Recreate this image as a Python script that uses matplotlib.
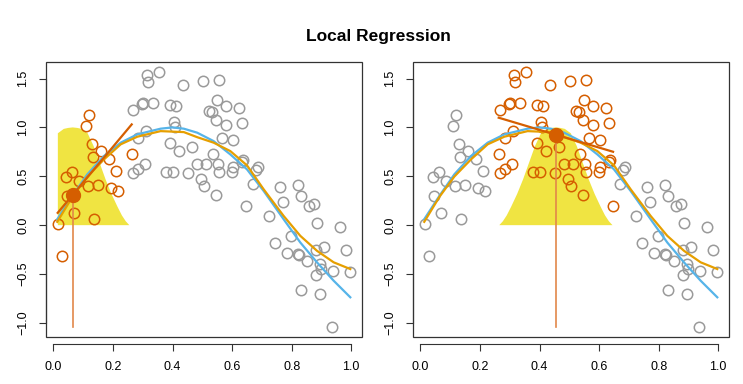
import numpy as np
import matplotlib
matplotlib.use("Agg")
import matplotlib.pyplot as plt
from matplotlib.patches import Rectangle

plt.rcParams['font.family'] = ['Liberation Sans', 'DejaVu Sans']

# simulated data
x = np.array([0.0145, 0.028, 0.042, 0.047, 0.061, 0.069, 0.086, 0.109, 0.116, 0.120,
              0.128, 0.134, 0.136, 0.151, 0.159, 0.187, 0.192, 0.211, 0.216, 0.263,
              0.268, 0.268, 0.285, 0.285, 0.298, 0.302, 0.306, 0.312, 0.315, 0.318,
              0.335, 0.354, 0.379, 0.391, 0.393, 0.403, 0.404, 0.408, 0.413, 0.422,
              0.434, 0.453, 0.466, 0.482, 0.497, 0.503, 0.507, 0.514, 0.523, 0.531,
              0.535, 0.545, 0.547, 0.551, 0.554, 0.556, 0.556, 0.565, 0.579, 0.581,
              0.600, 0.602, 0.603, 0.623, 0.634, 0.635, 0.636, 0.647, 0.669, 0.679,
              0.687, 0.724, 0.743, 0.760, 0.772, 0.786, 0.798, 0.822, 0.822, 0.826,
              0.832, 0.832, 0.853, 0.860, 0.876, 0.883, 0.883, 0.884, 0.894, 0.895,
              0.897, 0.908, 0.937, 0.939, 0.961, 0.984, 0.997])
y = np.array([0.010, -0.316, 0.49, 0.30, 0.54, 0.126, 0.45, 1.01, 0.40, 1.13,
              0.833, 0.70, 0.064, 0.415, 0.755, 0.673, 0.384, 0.558, 0.354, 0.728,
              1.18, 0.53, 0.575, 0.894, 1.235, 1.25, 0.622, 0.966, 1.54, 1.466,
              1.25, 1.565, 0.54, 1.225, 0.837, 0.54, 1.06, 1.007, 1.218, 0.762,
              1.435, 0.53, 0.796, 0.622, 0.473, 1.476, 0.40, 0.629, 1.173, 1.153,
              0.731, 0.31, 1.075, 1.282, 0.626, 0.548, 1.483, 0.888, 1.214, 1.02,
              0.548, 0.60, 0.871, 1.20, 0.646, 1.048, 0.667, 0.194, 0.418, 0.568,
              0.60, 0.092, -0.18, 0.395, 0.235, -0.289, -0.112, 0.412, -0.299, -0.306,
              0.30, -0.66, -0.371, 0.194, 0.218, -0.252, -0.51, 0.024, -0.707, -0.398,
              -0.446, -0.228, -1.04, -0.466, -0.02, -0.255, -0.476])

# true function (blue) and loess fit (orange), read at a set of x positions
true_x = [0.013, 0.064, 0.114, 0.17, 0.226, 0.282, 0.36, 0.40, 0.438, 0.483,
          0.538, 0.594, 0.65, 0.706, 0.773, 0.829, 0.885, 0.941, 0.997]
true_y = [0.061, 0.30, 0.52, 0.707, 0.844, 0.929, 0.987, 1.0, 0.987, 0.946,
          0.86, 0.724, 0.571, 0.35, 0.061, -0.177, -0.38, -0.568, -0.738]
fit_x = [0.013, 0.064, 0.114, 0.17, 0.226, 0.282, 0.36, 0.438, 0.483, 0.538,
         0.594, 0.65, 0.706, 0.773, 0.829, 0.885, 0.941, 0.997]
fit_y = [0.034, 0.29, 0.497, 0.673, 0.827, 0.905, 0.962, 0.952, 0.90, 0.844,
         0.758, 0.612, 0.367, 0.095, -0.109, -0.262, -0.38, -0.449]

# shape of the yellow weight curve: height vs distance from the target point
kern_d = [0.0, 0.015, 0.03, 0.05, 0.07, 0.09, 0.11, 0.13, 0.15, 0.165, 0.178, 0.19]
kern_w = [1.0, 0.995, 0.985, 0.94, 0.81, 0.64, 0.47, 0.32, 0.19, 0.10, 0.04, 0.0]

# target points, their local fitted value and slope, span half-width
targets = [0.065, 0.455]
target_fit = [0.31, 0.925]
target_slope = [3.64, -0.907]
half_width = 0.2

gray = "#9a9a9a"
verm = "#D55E00"
yellow = "#F0E442"
blue = "#56B4E9"
orange = "#E69F00"

fig = plt.figure(figsize=(7.43, 3.84), dpi=100)
boxes = [[46/743, 47/384, 316/743, 275/384], [413/743, 47/384, 316/743, 275/384]]

xr = x.max() - x.min()
yr = y.max() - y.min()

for i, b in enumerate(boxes):
    ax = fig.add_axes(b)
    x0 = targets[i]
    inside = np.abs(x - x0) <= half_width

    # yellow weights, cut at the range of the data
    kx = np.concatenate([x0 - np.array(kern_d[::-1]), x0 + np.array(kern_d[1:])])
    kw = np.concatenate([kern_w[::-1], kern_w[1:]])
    keep = (kx >= x.min()) & (kx <= x.max())
    kx, kw = kx[keep], kw[keep]
    kx = np.concatenate([[kx[0]], kx, [kx[-1]]])
    kw = np.concatenate([[0], kw, [0]])
    ax.fill(kx, kw, color=yellow, lw=0, zorder=1)

    ax.plot(x[~inside], y[~inside], 'o', mfc='none', mec=gray, ms=7.5, mew=1.1, zorder=2)
    ax.plot(x[inside], y[inside], 'o', mfc='none', mec=verm, ms=7.5, mew=1.1, zorder=2)

    ax.plot(true_x, true_y, color=blue, lw=1.6, zorder=3)
    ax.plot(fit_x, fit_y, color=orange, lw=1.6, zorder=3)

    xs = np.array([x[inside].min(), x[inside].max()])
    ax.plot(xs, target_fit[i] + target_slope[i] * (xs - x0), color=verm, lw=1.6, zorder=4)
    ax.plot([x0, x0], [y.min(), target_fit[i]], color="#E2874A", lw=1.2, zorder=4)
    ax.plot(x0, target_fit[i], 'o', color=verm, ms=10, zorder=5)

    ax.set_xlim(x.min() - 0.04 * xr, x.max() + 0.04 * xr)
    ax.set_ylim(y.min() - 0.04 * yr, y.max() + 0.04 * yr)
    ax.set_xticks([0.0, 0.2, 0.4, 0.6, 0.8, 1.0])
    ax.set_yticks([-1.0, -0.5, 0.0, 0.5, 1.0, 1.5])
    ax.set_xticklabels(["0.0", "0.2", "0.4", "0.6", "0.8", "1.0"])
    ax.set_yticklabels(["\u22121.0", "\u22120.5", "0.0", "0.5", "1.0", "1.5"])

    for s in ['top', 'right']:
        ax.spines[s].set_visible(False)
    ax.spines['bottom'].set_position(('outward', 5))
    ax.spines['bottom'].set_bounds(0, 1)
    ax.spines['left'].set_bounds(-1, 1.5)
    for s in ['bottom', 'left']:
        ax.spines[s].set_linewidth(0.8)
        ax.spines[s].set_color('#333333')
    ax.add_patch(Rectangle((0, 0), 1, 1, transform=ax.transAxes, fill=False,
                           lw=0.9, ec='#333333', clip_on=False, zorder=6))
    ax.tick_params(direction='out', length=5, width=0.8, color='#333333', labelsize=9, pad=7)
    ax.tick_params(axis='y', labelrotation=90)
    for t in ax.get_yticklabels():
        t.set_va('center')

fig.text(0.509, 0.894, "Local Regression", ha='center', va='baseline',
         fontsize=12.5, fontweight='bold')

fig.savefig("out.png", dpi=100)
